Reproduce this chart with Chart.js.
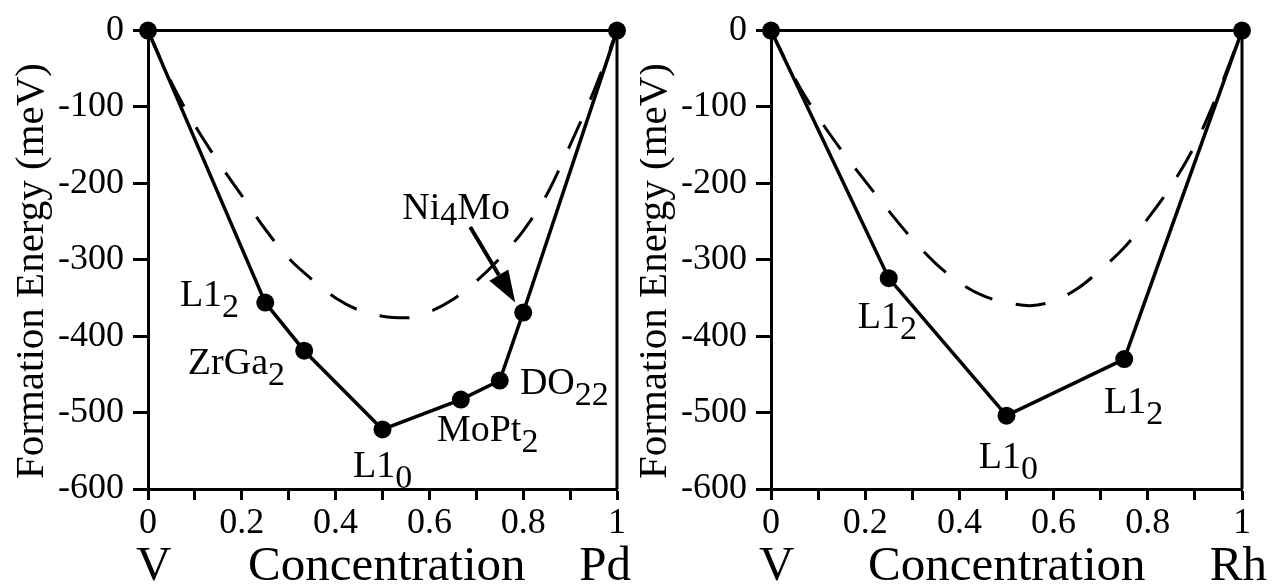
<!DOCTYPE html>
<html>
<head>
<meta charset="utf-8">
<script src="https://cdn.jsdelivr.net/npm/chart.js@4"></script>
<style>
  html, body { margin: 0; padding: 0; background: #fff; }
  #wrap { position: relative; width: 1278px; height: 585px; }
  .panel { position: absolute; top: 0; }
</style>
</head>
<body>
<div id="wrap">
  <div class="panel" style="left:0"><canvas id="chartPd" width="640" height="585"></canvas></div>
  <div class="panel" style="left:640px"><canvas id="chartRh" width="638" height="585"></canvas></div>
</div>
<script>
// V-Pd: ground states (solid hull) and random-alloy curve (dashed)
const pdHullX = [0, 0.25, 0.333, 0.5, 0.667, 0.75, 0.8, 1];
const pdHullY = [0, -356, -419, -522, -483, -458, -369, 0];
const pdRandomX = [0, 0.05, 0.1, 0.15, 0.2, 0.25, 0.3, 0.35, 0.4, 0.45, 0.5, 0.55, 0.6, 0.65, 0.7, 0.75, 0.8, 0.85, 0.9, 0.95, 1];
const pdRandomY = [0, -68, -124, -172, -216, -260, -298, -326, -350, -366, -374, -376, -368, -352, -328, -298, -262, -215, -150, -80, 0];

// V-Rh
const rhHullX = [0, 0.25, 0.5, 0.75, 1];
const rhHullY = [0, -324, -504, -430, 0];
const rhRandomX = [0, 0.05, 0.1, 0.15, 0.2, 0.25, 0.3, 0.35, 0.4, 0.45, 0.5, 0.55, 0.6, 0.65, 0.7, 0.75, 0.8, 0.85, 0.9, 0.95, 1];
const rhRandomY = [0, -62, -113, -157, -197, -236, -273, -305, -330, -347, -356, -360, -354, -338, -313, -284, -246, -203, -150, -80, 0];

const yTicks = [0, -100, -200, -300, -400, -500, -600];
const xTickLabels = ['0', '0.2', '0.4', '0.6', '0.8', '1'];

// structure labels: [main, subscript, x, y] anchored at left baseline, data coords
const pdLabels = [
  ['L1', '2', 0.068, -360],
  ['ZrGa', '2', 0.085, -450],
  ['L1', '0', 0.437, -584],
  ['MoPt', '2', 0.616, -537],
  ['DO', '22', 0.793, -476],
];
const rhLabels = [
  ['L1', '2', 0.184, -389],
  ['L1', '0', 0.441, -572],
  ['L1', '2', 0.707, -501],
];

const SERIF = '"Liberation Serif", "Times New Roman", serif';

function toPoints(xs, ys) {
  return xs.map((x, i) => ({ x, y: ys[i] }));
}

function drawLabel(ctx, main, sub, px, py) {
  ctx.font = `38px ${SERIF}`;
  ctx.textAlign = 'left';
  ctx.textBaseline = 'alphabetic';
  ctx.fillText(main, px, py);
  const w = ctx.measureText(main).width;
  ctx.font = `34px ${SERIF}`;
  ctx.fillText(sub, px + w, py + 11);
  return w + ctx.measureText(sub).width;
}

function annotationPlugin(opts) {
  return {
    id: 'annot',
    afterDraw(chart) {
      const { ctx, chartArea, scales } = chart;
      const xs = scales.x, ys = scales.y;
      ctx.save();
      ctx.fillStyle = '#000';
      ctx.strokeStyle = '#000';
      // top and right edge of the box
      ctx.lineWidth = 3;
      ctx.beginPath();
      ctx.moveTo(chartArea.left, chartArea.top);
      ctx.lineTo(chartArea.right, chartArea.top);
      ctx.lineTo(chartArea.right, chartArea.bottom);
      ctx.stroke();

      opts.labels.forEach(([main, sub, x, y]) => {
        drawLabel(ctx, main, sub, xs.getPixelForValue(x), ys.getPixelForValue(y));
      });

      if (opts.arrow) {
        const a = opts.arrow;
        const x1 = xs.getPixelForValue(a.from[0]), y1 = ys.getPixelForValue(a.from[1]);
        const x2 = xs.getPixelForValue(a.to[0]), y2 = ys.getPixelForValue(a.to[1]);
        const ang = Math.atan2(y2 - y1, x2 - x1);
        const hl = 32, hw = 11;
        const bx = x2 - hl * Math.cos(ang), by = y2 - hl * Math.sin(ang);
        ctx.lineWidth = 4;
        ctx.beginPath();
        ctx.moveTo(x1, y1);
        ctx.lineTo(bx, by);
        ctx.stroke();
        ctx.beginPath();
        ctx.moveTo(x2, y2);
        ctx.lineTo(bx + hw * Math.sin(ang), by - hw * Math.cos(ang));
        ctx.lineTo(bx - hw * Math.sin(ang), by + hw * Math.cos(ang));
        ctx.closePath();
        ctx.fill();
        const tx = xs.getPixelForValue(a.text[0]), ty = ys.getPixelForValue(a.text[1]);
        ctx.font = `38px ${SERIF}`;
        ctx.textAlign = 'left';
        ctx.fillText('Ni', tx, ty);
        const wNi = ctx.measureText('Ni').width;
        ctx.font = `34px ${SERIF}`;
        ctx.fillText('4', tx + wNi, ty + 6);
        const w4 = ctx.measureText('4').width;
        ctx.font = `38px ${SERIF}`;
        ctx.fillText('Mo', tx + wNi + w4, ty);
      }

      // axis titles
      ctx.font = `41px ${SERIF}`;
      ctx.textAlign = 'center';
      ctx.textBaseline = 'middle';
      ctx.save();
      ctx.translate(chartArea.left - 116, 271);
      ctx.rotate(-Math.PI / 2);
      ctx.fillText('Formation Energy (meV)', 0, 0);
      ctx.restore();

      ctx.font = `49px ${SERIF}`;
      ctx.textBaseline = 'alphabetic';
      ctx.textAlign = 'left';
      ctx.fillText('V', chartArea.left - 12, 580);
      ctx.fillText('Concentration', chartArea.left + opts.titleOffset, 580);
      ctx.textAlign = 'right';
      ctx.fillText(opts.element, chartArea.right + opts.elementOffset, 580);
      ctx.restore();
    },
  };
}

function makeChart(id, cfg) {
  new Chart(document.getElementById(id), {
    type: 'scatter',
    data: {
      datasets: [
        {
          data: toPoints(cfg.randomX, cfg.randomY),
          showLine: true,
          borderColor: '#000',
          borderWidth: 3,
          borderDash: [30, 24],
          pointRadius: 0,
          tension: 0.4,
          cubicInterpolationMode: 'monotone',
          clip: false,
        },
        {
          data: toPoints(cfg.hullX, cfg.hullY),
          showLine: true,
          borderColor: '#000',
          backgroundColor: '#000',
          borderWidth: 3.5,
          pointRadius: 9,
          pointBackgroundColor: '#000',
          pointBorderWidth: 0,
          tension: 0,
          clip: false,
        },
      ],
    },
    options: {
      responsive: false,
      animation: false,
      layout: { padding: { top: 23, right: cfg.padRight, left: 0, bottom: 0 } },
      plugins: { legend: { display: false }, tooltip: { enabled: false } },
      scales: {
        x: {
          type: 'linear',
          min: 0,
          max: 1,
          afterFit: (scale) => { scale.height = 96; },
          border: { display: true, color: '#000', width: 3 },
          grid: { drawOnChartArea: false, tickLength: 11, tickWidth: 3, tickColor: '#000' },
          ticks: {
            stepSize: 0.1,
            autoSkip: false,
            maxRotation: 0,
            padding: 2,
            color: '#000',
            font: { family: SERIF, size: 36 },
            callback: (v, i) => (i % 2 === 0 ? xTickLabels[i / 2] : ''),
          },
        },
        y: {
          type: 'linear',
          min: -600,
          max: 0,
          afterFit: (scale) => { scale.width = cfg.yWidth; },
          afterBuildTicks: (scale) => { scale.ticks = yTicks.map((v) => ({ value: v })); },
          border: { display: true, color: '#000', width: 3 },
          grid: { drawOnChartArea: false, tickLength: 15, tickWidth: 3, tickColor: '#000' },
          ticks: {
            padding: 9,
            color: '#000',
            font: { family: SERIF, size: 36 },
            callback: (v) => String(v),
          },
        },
      },
    },
    plugins: [annotationPlugin(cfg)],
  });
}

makeChart('chartPd', {
  hullX: pdHullX, hullY: pdHullY, randomX: pdRandomX, randomY: pdRandomY,
  padRight: 23, yWidth: 148,
  labels: pdLabels,
  arrow: { from: [0.687, -257], to: [0.783, -356], text: [0.542, -247] },
  element: 'Pd', titleOffset: 100, elementOffset: 14,
});

makeChart('chartRh', {
  hullX: rhHullX, hullY: rhHullY, randomX: rhRandomX, randomY: rhRandomY,
  padRight: 36, yWidth: 131,
  labels: rhLabels,
  arrow: null,
  element: 'Rh', titleOffset: 97, elementOffset: 25,
});
</script>
</body>
</html>
